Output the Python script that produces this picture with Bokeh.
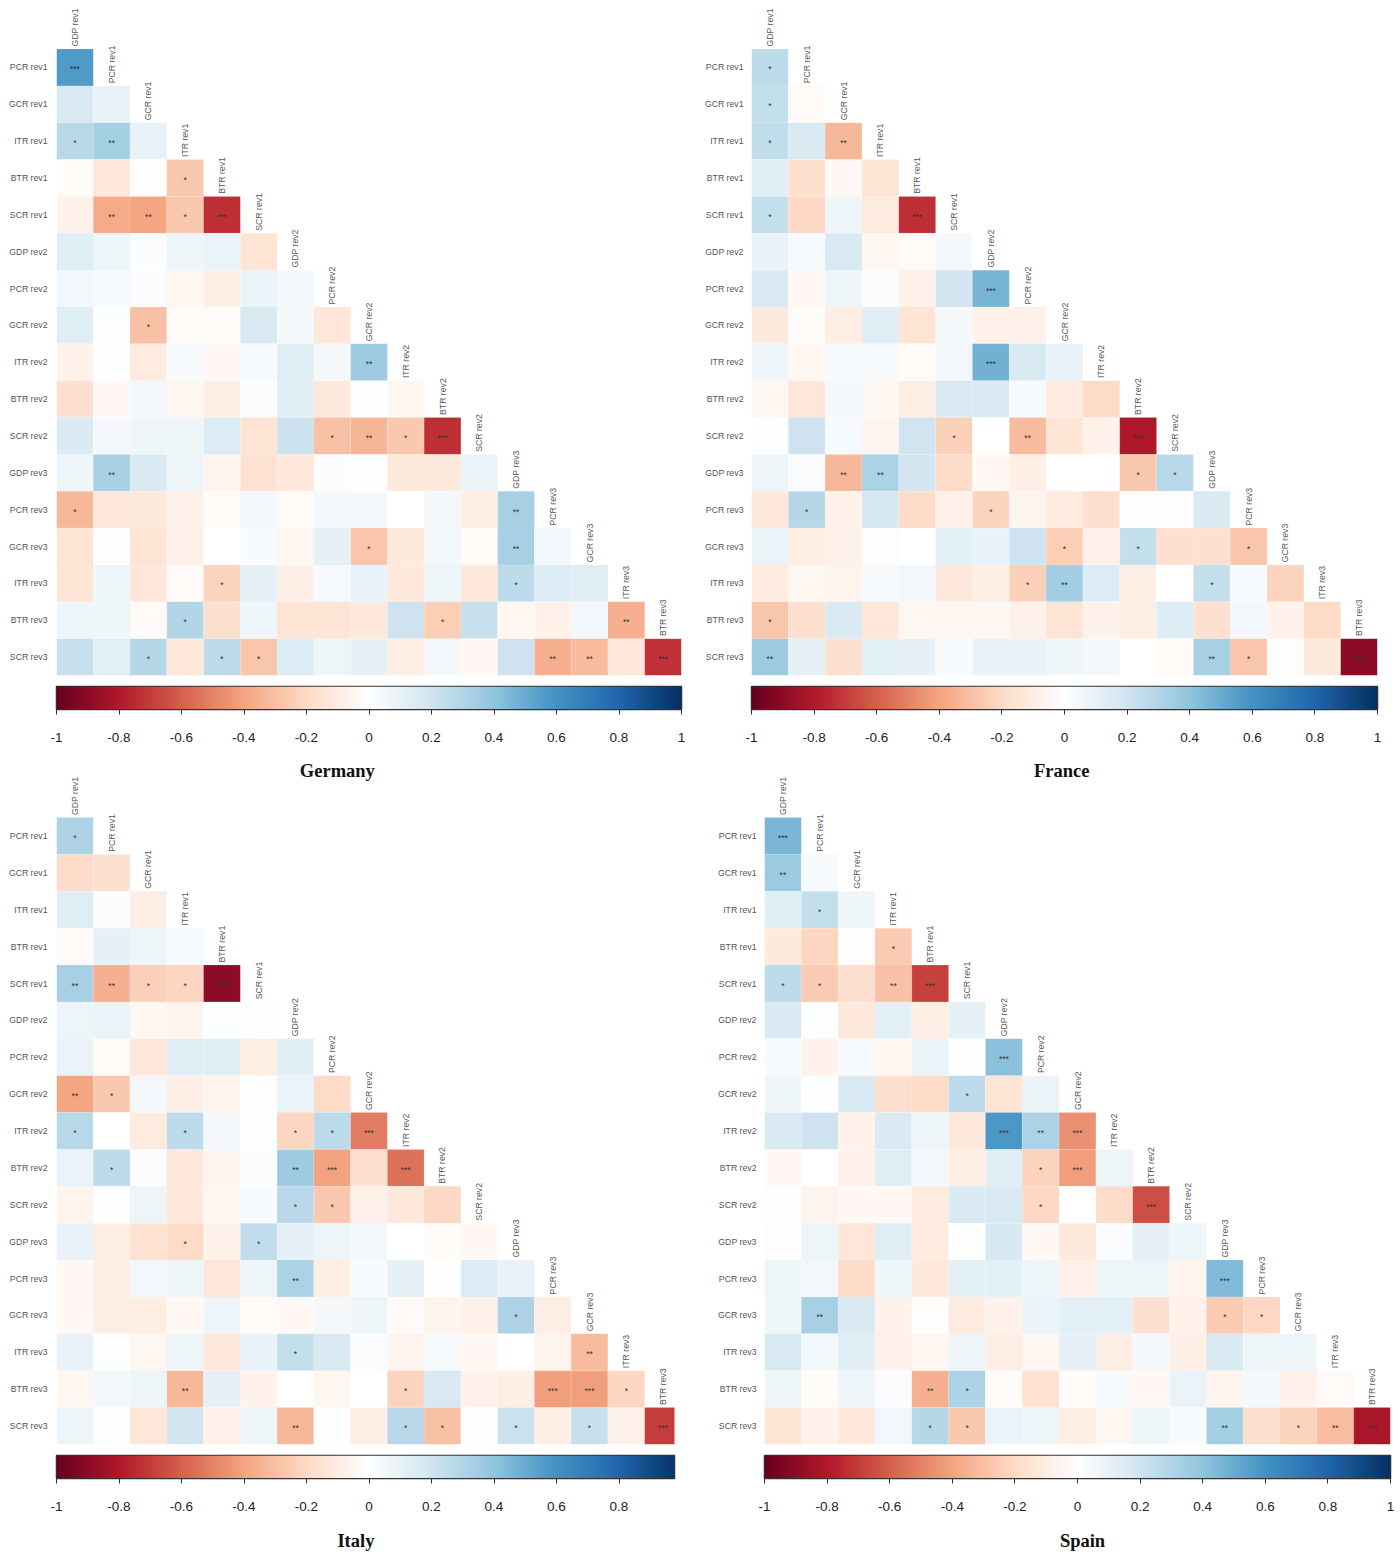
from math import pi
import numpy as np
from bokeh.core.properties import value
from bokeh.embed import file_html
from bokeh.layouts import column, row
from bokeh.models import ColumnDataSource, FixedTicker, LinearAxis, LinearColorMapper, Range1d
from bokeh.plotting import figure
from bokeh.resources import INLINE

COLUMN_LABELS = ["GDP rev1", "PCR rev1", "GCR rev1", "ITR rev1", "BTR rev1", "SCR rev1",
                 "GDP rev2", "PCR rev2", "GCR rev2", "ITR rev2", "BTR rev2", "SCR rev2",
                 "GDP rev3", "PCR rev3", "GCR rev3", "ITR rev3", "BTR rev3"]
ROW_LABELS = ["PCR rev1", "GCR rev1", "ITR rev1", "BTR rev1", "SCR rev1",
              "GDP rev2", "PCR rev2", "GCR rev2", "ITR rev2", "BTR rev2", "SCR rev2",
              "GDP rev3", "PCR rev3", "GCR rev3", "ITR rev3", "BTR rev3", "SCR rev3"]
BAR_TICKS = [-1, -0.8, -0.6, -0.4, -0.2, 0, 0.2, 0.4, 0.6, 0.8, 1]
BAR_TICK_LABELS = ["-1", "-0.8", "-0.6", "-0.4", "-0.2", "0", "0.2", "0.4", "0.6", "0.8", "1"]
COLOR_STOPS = ["#67001F", "#B2182B", "#D6604D", "#F4A582", "#FDDBC7", "#FFFFFF",
               "#D1E5F0", "#92C5DE", "#4393C3", "#2166AC", "#053061"]

GERMANY_VALUES = [
    [0.57],
    [0.17, 0.10],
    [0.28, 0.34, 0.10],
    [-0.02, -0.13, -0.01, -0.27],
    [-0.07, -0.38, -0.40, -0.27, -0.74],
    [0.14, 0.08, 0.02, 0.08, 0.09, -0.15],
    [0.06, 0.04, 0.02, -0.05, -0.09, 0.09, 0.05],
    [0.14, 0.01, -0.30, -0.02, -0.03, 0.17, 0.05, -0.14],
    [-0.07, 0.01, -0.11, 0.03, -0.04, 0.04, 0.14, 0.05, 0.36],
    [-0.17, -0.04, 0.05, -0.05, -0.09, 0.02, 0.13, -0.12, 0.01, -0.05],
    [0.16, 0.05, 0.07, 0.07, 0.15, -0.15, 0.22, -0.30, -0.34, -0.27, -0.74],
    [0.07, 0.33, 0.16, 0.08, -0.06, -0.16, -0.13, 0.02, 0.01, -0.12, -0.12, 0.09],
    [-0.33, -0.14, -0.12, -0.08, -0.02, 0.05, -0.03, 0.05, 0.05, 0.00, 0.05, -0.09, 0.33],
    [-0.15, -0.01, -0.15, -0.08, 0.00, 0.03, -0.05, 0.11, -0.28, -0.12, 0.06, -0.02, 0.33, 0.05],
    [-0.15, 0.07, -0.14, -0.03, -0.23, 0.11, -0.09, 0.04, 0.10, -0.13, 0.08, -0.13, 0.26, 0.15, 0.14],
    [0.07, 0.07, -0.03, 0.30, -0.18, 0.07, -0.15, -0.15, -0.13, 0.21, -0.25, 0.23, -0.05, -0.07, 0.06, -0.36],
    [0.23, 0.12, 0.29, -0.13, 0.26, -0.28, 0.15, 0.08, 0.11, -0.10, 0.05, -0.04, 0.21, -0.36, -0.32, -0.13, -0.73],
]
GERMANY_STARS = ["3", "00", "120", "0001", "02213", "000000", "0000000", "00100000", "000000002",
                 "0000000000", "00000001213", "020000000000", "1000000000002", "00000000100020",
                 "000010000000100", "0001000000100002", "00101100000002203"]

FRANCE_VALUES = [
    [0.26],
    [0.24, -0.03],
    [0.25, 0.16, -0.33],
    [0.13, -0.18, -0.04, -0.15],
    [0.24, -0.21, 0.07, -0.11, -0.74],
    [0.10, 0.04, 0.17, -0.05, -0.03, 0.05],
    [0.17, -0.04, 0.08, 0.02, -0.08, 0.19, 0.47],
    [-0.12, -0.02, -0.10, 0.14, -0.15, 0.05, -0.07, -0.08],
    [0.08, -0.05, 0.04, 0.04, -0.03, 0.06, 0.48, 0.17, 0.10],
    [-0.05, -0.14, 0.05, -0.05, -0.10, 0.16, 0.16, 0.04, -0.11, -0.20],
    [0.01, 0.21, 0.04, -0.06, 0.20, -0.24, 0.00, -0.32, -0.15, -0.07, -0.81],
    [0.08, 0.02, -0.33, 0.32, 0.19, -0.19, -0.04, -0.09, 0.00, 0.00, -0.27, 0.28],
    [-0.13, 0.29, -0.07, 0.18, -0.19, -0.08, -0.23, -0.06, -0.11, -0.18, -0.01, -0.01, 0.16],
    [0.09, -0.10, -0.08, -0.01, 0.00, 0.12, 0.10, 0.21, -0.25, -0.08, 0.24, -0.17, -0.17, -0.28],
    [-0.11, -0.05, -0.06, 0.04, 0.06, -0.13, -0.09, -0.24, 0.35, 0.15, -0.09, 0.00, 0.24, 0.04, -0.23],
    [-0.28, -0.17, 0.16, -0.14, -0.05, -0.05, -0.05, -0.08, -0.15, -0.07, -0.09, 0.15, -0.17, 0.06, -0.07, -0.20],
    [0.36, 0.11, -0.17, 0.12, 0.11, 0.03, 0.10, 0.10, 0.07, 0.05, 0.00, -0.03, 0.33, -0.28, -0.01, -0.12, -0.90],
]
FRANCE_STARS = ["1", "10", "102", "0000", "10003", "000000", "0000003", "00000000", "000000300",
                "0000000000", "00000102003", "002200000011", "0100001000000", "00000000101001",
                "000000012000100", "1000000000000000", "20000000000021003"]

ITALY_VALUES = [
    [0.31],
    [-0.19, -0.17],
    [0.14, 0.02, -0.10],
    [-0.03, 0.11, 0.07, 0.04],
    [0.33, -0.36, -0.24, -0.22, -0.90],
    [0.08, 0.09, -0.05, -0.06, 0.01, 0.01],
    [0.09, -0.03, -0.13, 0.13, 0.14, -0.10, 0.13],
    [-0.40, -0.27, 0.05, -0.09, -0.06, 0.01, 0.09, -0.20],
    [0.28, 0.00, -0.11, 0.26, 0.05, 0.01, -0.22, 0.27, -0.52],
    [0.09, 0.26, 0.02, -0.13, -0.06, 0.02, 0.36, -0.41, -0.17, -0.55],
    [-0.06, 0.01, 0.08, -0.13, -0.05, 0.03, 0.28, -0.27, -0.07, -0.13, -0.21],
    [0.10, -0.10, -0.16, -0.20, -0.07, 0.25, 0.11, 0.08, 0.06, 0.00, -0.02, -0.04],
    [-0.04, -0.09, 0.06, 0.08, -0.14, 0.08, 0.32, -0.10, 0.03, 0.11, 0.01, 0.15, 0.10],
    [-0.04, -0.10, -0.10, -0.04, 0.08, -0.03, -0.04, 0.05, 0.08, -0.03, -0.06, -0.08, 0.31, -0.10],
    [0.10, 0.01, -0.05, 0.08, -0.13, 0.10, 0.24, 0.17, 0.02, -0.06, 0.04, -0.04, 0.00, -0.06, -0.32],
    [-0.05, 0.06, 0.08, -0.33, 0.11, -0.07, 0.00, -0.05, 0.00, -0.23, 0.17, -0.07, -0.09, -0.42, -0.42, -0.22],
    [0.08, 0.01, -0.14, 0.20, -0.08, 0.07, -0.33, 0.01, -0.09, 0.28, -0.30, 0.01, 0.22, -0.09, 0.23, -0.08, -0.70],
]
ITALY_STARS = ["1", "00", "000", "0000", "22113", "000000", "0000000", "21000000", "100100113",
               "0100002303", "00000011000", "000101000000", "0000002000000", "00000000000010",
               "000000100000002", "0002000001000331", "00000020011010103"]

SPAIN_VALUES = [
    [0.46],
    [0.37, 0.04],
    [0.13, 0.24, 0.07],
    [-0.12, -0.22, -0.01, -0.26],
    [0.26, -0.26, -0.17, -0.30, -0.69],
    [0.16, 0.01, -0.13, 0.12, -0.09, 0.11],
    [0.04, -0.07, 0.04, -0.05, 0.09, 0.01, 0.42],
    [0.07, 0.01, 0.16, -0.18, -0.20, 0.26, -0.15, 0.09],
    [0.16, 0.21, -0.07, 0.16, 0.08, -0.13, 0.58, 0.32, -0.46],
    [-0.04, 0.00, -0.07, 0.14, 0.05, -0.09, 0.14, -0.23, -0.42, 0.08],
    [0.01, -0.06, -0.04, -0.04, -0.11, 0.16, 0.17, -0.21, 0.00, -0.19, -0.65],
    [-0.01, 0.08, -0.14, 0.14, -0.11, 0.01, 0.18, -0.04, -0.12, 0.02, 0.11, 0.07],
    [0.08, 0.06, -0.19, 0.08, -0.13, 0.12, 0.12, 0.08, -0.08, 0.08, 0.08, -0.06, 0.44],
    [0.07, 0.33, 0.16, -0.07, -0.01, -0.11, -0.08, 0.09, 0.12, 0.12, -0.17, -0.07, -0.26, -0.21],
    [0.17, 0.06, 0.13, -0.07, -0.05, 0.08, -0.10, -0.05, 0.11, -0.10, 0.05, -0.09, 0.17, 0.08, 0.08],
    [0.07, -0.02, 0.08, 0.02, -0.36, 0.31, -0.02, -0.16, -0.02, 0.04, -0.04, 0.09, -0.06, 0.05, -0.07, -0.03],
    [-0.15, -0.07, -0.13, 0.06, 0.29, -0.27, 0.09, 0.07, -0.09, -0.05, 0.07, 0.03, 0.34, -0.18, -0.23, -0.31, -0.82],
]
SPAIN_STARS = ["3", "20", "010", "0001", "11023", "000000", "0000003", "00000100", "000000323",
               "0000000130", "00000001003", "000000000000", "0000000000003", "02000000000011",
               "000000000000000", "0000210000000000", "00001100000020123"]

# pad: white above the frame; top: frame height; extra_title: the title of the panel above,
# drawn inside this frame because it hangs over the boundary between the two rows of figures.
PANELS = [
    dict(name="Germany", vals=GERMANY_VALUES, stars=GERMANY_STARS, left=56, width=690, fw=625,
         xmax=17.0, pad=8, top=667, cell=36.85, standoff=9, bar_h=76, title_x=None, extra_title=None),
    dict(name="France", vals=FRANCE_VALUES, stars=FRANCE_STARS, left=61, width=708, fw=626,
         xmax=17.0, pad=8, top=667, cell=36.85, standoff=8, bar_h=76, title_x=None, extra_title=None),
    dict(name="Italy", vals=ITALY_VALUES, stars=ITALY_STARS, left=56, width=690, fw=618,
         xmax=618 / 36.76, pad=0, top=684, cell=36.88, standoff=9, bar_h=70, title_x=-0.042,
         extra_title=("Germany", 7.64, 18.25)),
    dict(name="Spain", vals=SPAIN_VALUES, stars=SPAIN_STARS, left=74, width=708, fw=626,
         xmax=17.0, pad=0, top=684, cell=36.88, standoff=8, bar_h=70, title_x=0.016,
         extra_title=("France", 8.07, 18.25)),
]


def hex_rgb(h):
    return np.array([int(h[i:i + 2], 16) for i in (1, 3, 5)], float)


def build_palette(n=401):
    stops = np.array([hex_rgb(c) for c in COLOR_STOPS])
    pos = np.linspace(0, 1, len(stops))
    t = np.linspace(0, 1, n)
    rgb = np.column_stack([np.interp(t, pos, stops[:, k]) for k in range(3)])
    return ["#%02x%02x%02x" % tuple(int(round(v)) for v in c) for c in rgb]


mapper = LinearColorMapper(palette=build_palette(), low=-1, high=1)
LABEL_FONT = "Liberation Sans"
TITLE_STYLE = dict(text_font=value("Liberation Serif"), text_font_style="bold", text_font_size="18.5px",
                   text_color="#111111", text_align="center", text_baseline="middle")
n_rows = len(ROW_LABELS)


def heat_figure(pn):
    p = figure(width=pn["width"], height=pn["pad"] + pn["top"] + 9,
               x_range=Range1d(0, pn["xmax"]), y_range=Range1d(0, pn["top"] / pn["cell"]),
               x_axis_type=None, y_axis_type=None, toolbar_location=None, output_backend="svg",
               min_border_left=pn["left"], min_border_right=pn["width"] - pn["left"] - pn["fw"],
               min_border_top=pn["pad"], min_border_bottom=9, outline_line_color=None)
    xs, ys, vs, sx, sy, st = [], [], [], [], [], []
    for r, (vals, stars) in enumerate(zip(pn["vals"], pn["stars"])):
        y = n_rows - r - 0.5
        for c, v in enumerate(vals):
            xs.append(c + 0.5)
            ys.append(y)
            vs.append(v)
            n = int(stars[c]) if c < len(stars) else 0
            if n:
                sx.append(c + 0.5)
                sy.append(y)
                st.append("*" * n)
    p.rect(x="x", y="y", width=1, height=1, source=ColumnDataSource(dict(x=xs, y=ys, v=vs)),
           fill_color={"field": "v", "transform": mapper}, line_color="white", line_alpha=0.25, line_width=0.5)
    p.text(x=sx, y=sy, text=st, text_font=value(LABEL_FONT), text_font_size="8.5px", text_color="#333333",
           text_align="center", text_baseline="middle", y_offset=2)
    p.text(x=[i + 0.5 for i in range(n_rows)], y=[n_rows - i + 0.07 for i in range(n_rows)], text=COLUMN_LABELS,
           angle=pi / 2, text_font=value(LABEL_FONT), text_font_size="8.7px", text_color="#555555",
           text_align="left", text_baseline="middle")
    axis = LinearAxis(ticker=FixedTicker(ticks=[n_rows - i - 0.5 for i in range(n_rows)]),
                      major_label_overrides={n_rows - i - 0.5: lab for i, lab in enumerate(ROW_LABELS)},
                      major_tick_in=0, major_tick_out=0, minor_tick_in=0, minor_tick_out=0,
                      major_tick_line_color=None, minor_tick_line_color=None, axis_line_color=None,
                      major_label_standoff=pn["standoff"], major_label_text_font=LABEL_FONT,
                      major_label_text_font_size="8.7px", major_label_text_color="#555555")
    p.add_layout(axis, "left")
    if pn["extra_title"]:
        name, tx, ty = pn["extra_title"]
        p.text(x=[tx], y=[ty], text=[name], **TITLE_STYLE)
    return p


def value_range(pn):
    return Range1d(-1, -1 + 2 * pn["fw"] / 625 if pn["fw"] < 625 else 1)


def bar_figure(pn):
    p = figure(width=pn["width"], height=pn["bar_h"], x_range=value_range(pn), y_range=Range1d(0, 1),
               y_axis_type=None, toolbar_location=None, output_backend="svg",
               min_border_left=pn["left"], min_border_right=pn["width"] - pn["left"] - pn["fw"],
               min_border_top=2, min_border_bottom=pn["bar_h"] - 25, outline_line_color="#333333",
               outline_line_width=1.5)
    p.grid.visible = False
    p.image(image=[np.linspace(-1, 1, 801).reshape(1, -1)], x=-1, y=0, dw=2, dh=1, color_mapper=mapper)
    ax = p.xaxis[0]
    ax.ticker = FixedTicker(ticks=BAR_TICKS)
    ax.major_label_overrides = dict(zip(BAR_TICKS, BAR_TICK_LABELS))
    ax.major_tick_in = 0
    ax.major_tick_out = 5
    ax.major_tick_line_color = "#333333"
    ax.minor_tick_line_color = None
    ax.axis_line_color = "#333333"
    ax.major_label_standoff = 18
    ax.major_label_text_font = LABEL_FONT
    ax.major_label_text_font_size = "13.5px"
    ax.major_label_text_color = "#222222"
    return p


def title_figure(pn):
    p = figure(width=pn["width"], height=28, x_range=value_range(pn), y_range=Range1d(0, 1),
               x_axis_type=None, y_axis_type=None, toolbar_location=None, output_backend="svg",
               min_border_left=pn["left"], min_border_right=pn["width"] - pn["left"] - pn["fw"],
               min_border_top=0, min_border_bottom=0, outline_line_color=None)
    p.text(x=[pn["title_x"]], y=[0.39], text=[pn["name"]], **TITLE_STYLE)
    return p


cols = []
for pn in PANELS:
    parts = [heat_figure(pn), bar_figure(pn)]
    if pn["title_x"] is not None:
        parts.append(title_figure(pn))
    cols.append(column(*parts, spacing=0))
page = column(row(cols[0], cols[1], spacing=0), row(cols[2], cols[3], spacing=0), spacing=0)
open("out.html", "w").write(file_html(page, INLINE))
